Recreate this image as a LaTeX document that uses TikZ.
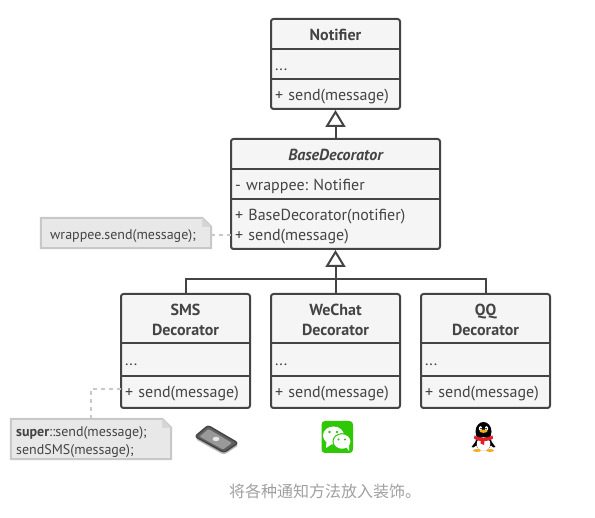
\documentclass[tikz,border=0pt]{standalone}
\usepackage{fontspec}
\setmainfont{PT Sans}
\newfontfamily\cjkfont{Noto Sans CJK SC}
\usetikzlibrary{arrows.meta, calc}
\definecolor{linegray}{RGB}{68, 68, 68}
\definecolor{boxfill}{RGB}{245, 245, 245}
\definecolor{notefill}{RGB}{232, 232, 232}
\definecolor{noteline}{RGB}{200, 200, 200}
\definecolor{notefold}{RGB}{214, 214, 214}
\definecolor{captiongray}{RGB}{160, 160, 160}
\definecolor{wechatgreen}{RGB}{46, 200, 6}
\definecolor{qqred}{RGB}{226, 30, 40}
\definecolor{qqyellow}{RGB}{245, 170, 30}
\tikzset{
  classbox/.style={draw=linegray, fill=boxfill, line width=2pt, rounded corners=2.5pt, inner sep=0pt},
  classtitle/.style={text=linegray, font=\fontsize{16}{20}\selectfont\bfseries, align=center, inner sep=0pt},
  classrow/.style={text=linegray, font=\fontsize{16}{20}\selectfont, text width=#1, align=left, inner xsep=4pt, inner ysep=0pt},
  classline/.style={classrow=#1, text height=14pt, text depth=1pt},
  classfield/.style={classline=#1, draw=linegray, line width=2pt},
  notetext/.style={text=linegray, font=\fontsize{14}{18.5}\selectfont, align=left, inner xsep=0pt, inner ysep=0pt, anchor=west},
  notebox/.style={fill=notefill, inner sep=0pt},
  noteshape/.style={draw=noteline, line width=2pt, line join=miter},
  notelink/.style={draw=noteline, line width=2pt, dash pattern=on 4pt off 4pt},
  inherit/.style={draw=linegray, line width=2pt, -{Triangle[open, length=17pt, width=20pt, fill=white]}, shorten >=0pt},
  caption/.style={text=captiongray, font=\fontsize{16}{18}\cjkfont}
}
\newcommand{\drawnote}[1]{
  \fill[white] ([xshift=-9pt]#1.north east) -- (#1.north east) -- ([yshift=-9pt]#1.north east) -- cycle;
  \draw[noteshape] (#1.south west) -- (#1.north west) -- ([xshift=-9pt]#1.north east) -- ([yshift=-9pt]#1.north east) -- (#1.south east) -- cycle;
  \fill[notefold] ([xshift=-9pt]#1.north east) -- ([xshift=-9pt,yshift=-9pt]#1.north east) -- ([yshift=-9pt]#1.north east) -- cycle;
}
\frenchspacing
\begin{document}
\begin{tikzpicture}[x=1pt, y=-1pt]
    \useasboundingbox (0,0) rectangle (595,518);

    % Notifier
    \node[classbox, minimum width=129pt, minimum height=90pt] (notifier) at (335.5,64) {};
    \node[classtitle] (notifiertitle) at (335.5,34.5) {Notifier};
    \node[classfield=121pt, minimum height=30pt] (notifierfields) at (335.5,64) {...};
    \node[classline=121pt] (notifiermethods) at (335.5,94) {+ send(message)};

    % Base decorator
    \node[classbox, minimum width=209pt, minimum height=110pt] (basedecorator) at (335.5,194) {};
    \node[classtitle, font=\fontsize{16}{20}\selectfont\bfseries\itshape] (basetitle) at (335.5,154.5) {BaseDecorator};
    \node[classfield=201pt, minimum height=30pt] (basefields) at (335.5,184) {- wrappee: Notifier};
    \node[classrow=201pt] (basemethods) at (335.5,226.5) {+ BaseDecorator(notifier)\\+ send(message)};

    % Concrete decorators
    \node[classbox, minimum width=129pt, minimum height=114pt] (sms) at (185.5,351) {};
    \node[classtitle] (smstitle) at (185.5,320) {SMS\\Decorator};
    \node[classfield=121pt, minimum height=33pt] (smsfields) at (185.5,359.5) {...};
    \node[classline=121pt] (smsmethods) at (185.5,391.5) {+ send(message)};

    \node[classbox, minimum width=129pt, minimum height=114pt] (wechat) at (335.5,351) {};
    \node[classtitle] (wechattitle) at (335.5,320) {WeChat\\Decorator};
    \node[classfield=121pt, minimum height=33pt] (wechatfields) at (335.5,359.5) {...};
    \node[classline=121pt] (wechatmethods) at (335.5,391.5) {+ send(message)};

    \node[classbox, minimum width=129pt, minimum height=114pt] (qq) at (485.5,351) {};
    \node[classtitle] (qqtitle) at (485.5,320) {QQ\\Decorator};
    \node[classfield=121pt, minimum height=33pt] (qqfields) at (485.5,359.5) {...};
    \node[classline=121pt] (qqmethods) at (485.5,391.5) {+ send(message)};

    % Inheritance
    \coordinate (hub) at (335.5,279);
    \draw[inherit] (basedecorator.north) -- (notifier.south);
    \draw[inherit] (wechat.north) -- (basedecorator.south);
    \draw[draw=linegray, line width=2pt] (sms.north) |- (hub) -| (qq.north);

    % Notes
    \node[notebox, minimum width=170pt, minimum height=30pt] (basenote) at (126,233) {};
    \node[notetext] (basenotetext) at (50,236.5) {wrappee.send(message);};
    \drawnote{basenote}
    \coordinate (basenotelink) at (231,235);
    \draw[notelink] (basenote.east |- basenotelink) -- (basenotelink);

    \node[notebox, minimum width=160pt, minimum height=40pt] (smsnote) at (91,439) {};
    \node[notetext] (smsnotetext) at (16,442) {\textbf{super}::send(message);\\sendSMS(message);};
    \drawnote{smsnote}
    \coordinate (smsnotelink) at (121,389);
    \draw[notelink] (smsnote.north) |- (smsnotelink);

    % Phone
    \fill[gray!55, rounded corners=3pt] (195,439) -- (208,428) -- (239,445) -- (224,455) -- cycle;
    \draw[linegray, line width=1.4pt, line join=round, rounded corners=2.5pt, fill=linegray!85] (195,436.5) -- (208,425.5) -- (238,443) -- (224,452.5) -- cycle;
    \fill[gray!80, rounded corners=1pt] (199.5,436.5) -- (208.5,429) -- (232,443) -- (223,449.5) -- cycle;
    \fill[gray!20] (216,439) ellipse (3.4 and 2.2);

    % WeChat
    \fill[wechatgreen, rounded corners=3.5pt] (321.5,421) rectangle (353,453);
    \fill[white] (333.5,435.5) ellipse (10.5 and 9);
    \fill[white] (326.5,441) -- (326,448) -- (332,444) -- cycle;
    \fill[wechatgreen] (329.5,432) circle (1.3);
    \fill[wechatgreen] (337,432) circle (1.3);
    \draw[wechatgreen, fill=white, line width=1pt] (342,441.5) ellipse (9 and 7.8);
    \fill[white] (346,447) -- (349,451) -- (349,445) -- cycle;
    \fill[wechatgreen] (338.5,439.5) circle (1.1);
    \fill[wechatgreen] (345,439.5) circle (1.1);

    % Penguin
    \fill[black] (476,441) -- (471.5,447) -- (473.5,447.5) -- (478,444) -- cycle;
    \fill[black] (491,441) -- (495.5,447) -- (493.5,447.5) -- (489,444) -- cycle;
    \fill[black] (483.5,431.5) ellipse (8 and 9.5);
    \fill[black] (483.5,442) ellipse (8 and 8.5);
    \fill[white] (483.5,444) ellipse (6.8 and 6.8);
    \fill[qqyellow] (477,450.5) ellipse (4 and 1.4);
    \fill[qqyellow] (490,450.5) ellipse (4 and 1.4);
    \fill[qqred] (474.5,435.5) .. controls (480,438.5) and (487,438.5) .. (492.5,435.5) -- (493,438.5) .. controls (489,441) and (486,441) .. (484.5,441) -- (484,445) -- (480.5,443.5) -- (480.5,441) .. controls (478,441) and (476,440) .. (474,438.5) -- cycle;
    \fill[white] (480.5,428.5) ellipse (1.7 and 2.3);
    \fill[white] (486.5,428.5) ellipse (1.7 and 2.3);
    \fill[black] (481,428.7) circle (0.8);
    \fill[black] (486,428.7) circle (0.8);
    \fill[qqyellow] (483.5,431.2) ellipse (4 and 1.6);

    % Caption
    \node[caption] (captiontext) at (325,491) {将各种通知方法放入装饰。};
\end{tikzpicture}
\end{document}
